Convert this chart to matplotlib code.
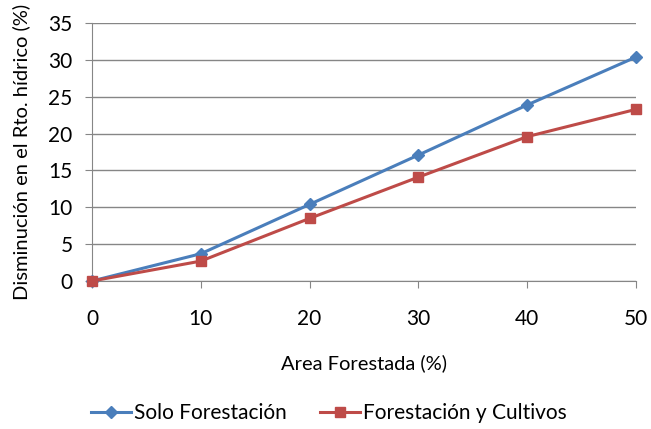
import matplotlib
matplotlib.use("Agg")
import matplotlib.pyplot as plt

plt.rcParams['font.family'] = ['Lato', 'DejaVu Sans']

area = [0, 10, 20, 30, 40, 50]
solo_forestacion = [0, 3.7, 10.4, 17.1, 23.9, 30.4]
forestacion_cultivos = [0, 2.7, 8.5, 14.1, 19.6, 23.3]

fig = plt.figure(figsize=(6.51, 4.29), dpi=100)
ax = fig.add_axes([0.1413, 0.345, 0.8357, 0.601])

ax.plot(area, solo_forestacion, color='#4a7ebb', lw=2.2, marker='D', ms=6,
        label='Solo Forestación', zorder=3)
ax.plot(area, forestacion_cultivos, color='#be4b48', lw=2.2, marker='s', ms=7,
        label='Forestación y Cultivos', zorder=3)

ax.set_xlim(0, 50)
ax.set_ylim(0, 35)
ax.set_xticks(area)
ax.set_yticks(range(0, 36, 5))
ax.grid(axis='y', color='#868686', lw=1)
ax.set_axisbelow(True)
for s in ['top', 'right']:
    ax.spines[s].set_visible(False)
ax.spines['left'].set_color('#868686')
ax.spines['bottom'].set_color('#868686')
ax.tick_params(colors='#868686', labelcolor='black', labelsize=15, length=5)
ax.tick_params(axis='x', pad=15)
ax.tick_params(axis='y', pad=9)
for line in ax.lines:
    line.set_clip_on(False)

ax.set_xlabel('Area Forestada (%)', fontsize=14.5, labelpad=18)
ax.set_ylabel('Disminución en el Rto. hídrico (%)', fontsize=14.5, labelpad=13)

fig.legend(loc='lower center', bbox_to_anchor=(0.505, -0.03), ncol=2, frameon=False,
           fontsize=15, handlelength=1.9, columnspacing=1.6, handletextpad=0.15)

fig.savefig('out.png', dpi=100)
